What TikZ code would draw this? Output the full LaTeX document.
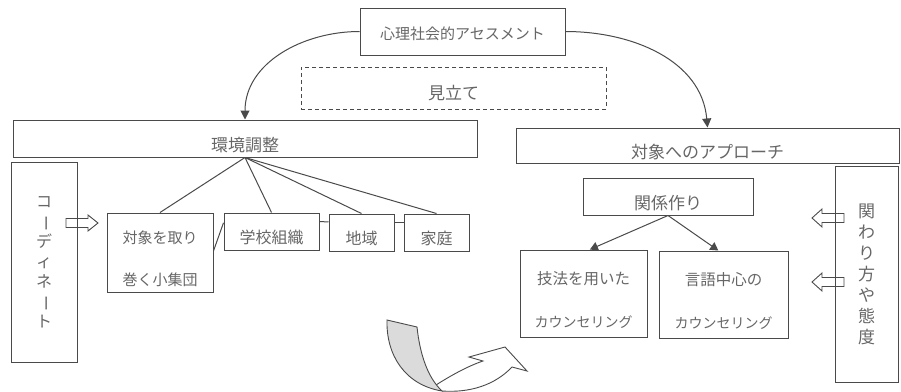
\documentclass[tikz,border=0pt]{standalone}
\usepackage{fontspec}
\newfontfamily\jp{Noto Sans CJK JP}
\usetikzlibrary{arrows.meta,calc}
\definecolor{ln}{HTML}{4A4A4A}
\definecolor{tx}{HTML}{666666}
\newcommand\dnstrut[1]{\rule{0pt}{#1}}
\begin{document}
\begin{tikzpicture}[x=1pt,y=-1pt,
  box/.style={draw=ln, line width=1pt, rectangle, inner sep=0pt, text=tx, align=center},
  fs/.style={font=\jp\fontsize{#1}{20}\selectfont},
  conn/.style={draw=ln, line width=1pt},
  tip/.style={-{Triangle[length=9pt,width=9pt]}},
  hollow/.style={draw=ln, line width=0.9pt, line join=miter}]
\useasboundingbox (0,0) rectangle (901,391);

% top nodes
\node[box, fs=15, minimum width=205pt, minimum height=47pt] (top) at (462.5,31.5) {\dnstrut{17pt}心理社会的アセスメント};
\node[box, fs=17, dashed, dash pattern=on 4pt off 3pt, minimum width=305pt, minimum height=42pt] (view) at (453.5,88) {\dnstrut{25pt}見立て};

% big bars
\node[box, fs=17, minimum width=464pt, minimum height=37pt] (env) at (245,138.5) {\dnstrut{27pt}環境調整};
\node[box, fs=17, minimum width=383pt, minimum height=35pt] (apr) at (707.5,145.5) {\dnstrut{27pt}対象へのアプローチ};

% side boxes with vertical text
\node[box, font=\jp\fontsize{16}{20}\selectfont, minimum width=66pt, minimum height=200pt] (coord) at (44,262)
  {コ\\\rotatebox[origin=c]{-90}{ー}\\デ\\ィ\\ネ\\\rotatebox[origin=c]{-90}{ー}\\ト};
\node[box, font=\jp\fontsize{17}{21}\selectfont, minimum width=63pt, minimum height=216pt] (att) at (866.5,274)
  {関\\わ\\り\\方\\や\\態\\度};

% environment sub-nodes
\node[box, font=\jp\fontsize{15}{42}\selectfont, minimum width=106pt, minimum height=79pt] (group) at (160,252.5)
  {\dnstrut{25pt}対象を取り\\巻く小集団};
\node[box, fs=16, minimum width=95pt, minimum height=37pt] (school) at (271.5,231.5) {\dnstrut{26pt}学校組織};
\node[box, fs=16, minimum width=65pt, minimum height=37pt] (area) at (361.5,232.5) {\dnstrut{26pt}地域};
\node[box, fs=16, minimum width=65pt, minimum height=37pt] (home) at (436.5,232.5) {\dnstrut{26pt}家庭};

% approach sub-nodes
\node[box, fs=17, minimum width=170pt, minimum height=37pt] (rel) at (668,196.5) {\dnstrut{27pt}関係作り};
\node[box, font=\jp\fontsize{15.5}{43}\selectfont, minimum width=127pt, minimum height=87pt] (tech) at (583.5,293.5)
  {\dnstrut{26pt}技法を用いた\\{\fontsize{14}{43}\selectfont カウンセリング}};
\node[box, font=\jp\fontsize{15.5}{43}\selectfont, minimum width=129pt, minimum height=87pt] (lang) at (723.5,294.5)
  {\dnstrut{26pt}言語中心の\\{\fontsize{14}{43}\selectfont カウンセリング}};

% curved arrows from top
\draw[conn, tip] (top.west) to[out=180, in=90] (env.north);
\draw[conn, tip] (top.east) to[out=0, in=95] (apr.north);

% tree lines
\draw[conn] (env.south) -- (group.north);
\draw[conn] (env.south) -- (school.north);
\draw[conn] (env.south) -- (area.north);
\draw[conn] (env.south) -- (home.north);
\draw[conn] ($(group.north east)!0.48!(group.south east)$) -- ($(school.north west)!0.27!(school.south west)$);
\draw[conn] ($(school.north east)!0.24!(school.south east)$) -- ($(area.north west)!0.22!(area.south west)$);
\draw[conn] ($(area.north east)!0.24!(area.south east)$) -- ($(home.north west)!0.24!(home.south west)$);

% relation arrows
\draw[conn, -{Triangle[length=8pt,width=9pt]}] (rel.south) -- ($(tech.north west)!0.55!(tech.north east)$);
\draw[conn, -{Triangle[length=8pt,width=9pt]}] (rel.south) -- ($(lang.north west)!0.46!(lang.north east)$);

% hollow block arrows
\draw[hollow] (66,218.5) -- (88,218.5) -- (88,215) -- (98,223) -- (88,231) -- (88,227.5) -- (66,227.5) -- cycle;
\foreach \cy in {218,282}{
  \draw[hollow] (844,\cy-4.5) -- (822,\cy-4.5) -- (822,\cy-9) -- (812,\cy) -- (822,\cy+9) -- (822,\cy+4.5) -- (844,\cy+4.5) -- cycle;
}

% twisted curved arrow
\filldraw[fill=white, draw=ln, line width=0.9pt, line join=miter]
  (436,385) .. controls (450,376) and (468,366) .. (483,361) -- (469,357) -- (505,347) -- (527,371) -- (512,367)
  .. controls (495,385) and (470,393) .. (442,391);
\filldraw[fill=gray!28, draw=ln, line width=0.9pt]
  (387,320) -- (417,327) .. controls (420,355) and (428,378) .. (442,391)
  .. controls (405,385) and (386,355) .. (387,320) -- cycle;
\end{tikzpicture}
\end{document}
